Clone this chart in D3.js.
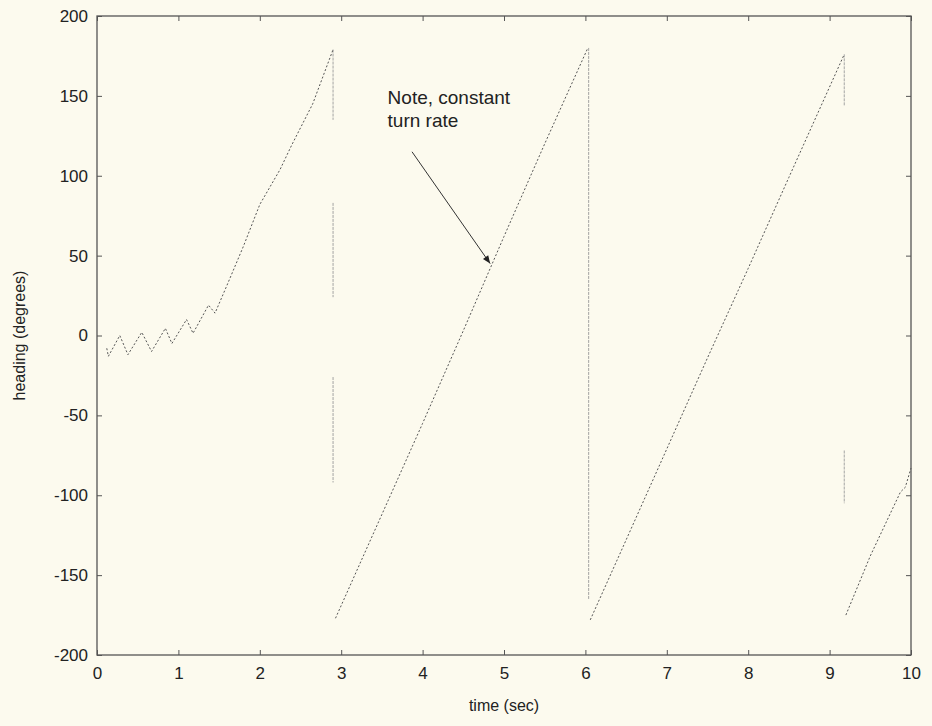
<!DOCTYPE html>
<html><head><meta charset="utf-8">
<script src="https://cdn.jsdelivr.net/npm/d3@7/dist/d3.min.js"></script>
<style>
body{margin:0;background:#fcfaee;}
svg{display:block;font-family:"Liberation Sans",Arial,sans-serif;}
</style></head><body>
<svg id="c" width="932" height="726"></svg>
<script>
// heading segments (time sec, heading deg)
const seg1T = [0.12,0.14,0.28,0.38,0.55,0.67,0.84,0.92,1.10,1.18,1.37,1.45,1.61,1.80,2.00,2.25,2.39,2.65,2.90];
const seg1V = [-8,-13,0,-12,2,-10,4.5,-5,10,1.4,19,14,33,56,82,104,119,145,179];
const seg2T = [2.93,3.5,4.0,4.5,5.0,5.5,6.03];
const seg2V = [-177,-112,-55,3,62,120,180];
const seg3T = [6.06,6.5,7.0,7.5,8.0,8.5,9.18];
const seg3V = [-178,-128,-71,-14,42,99,176];
const seg4T = [9.2,9.5,9.87,9.93,10.0];
const seg4V = [-175,-138,-98,-95,-83];
// faint wrap-around lines (time, from, to)
const wrapT = [2.9,2.9,2.9,6.04,9.18,9.18];
const wrapFrom = [179,83,-26,180,176,-72];
const wrapTo = [135,24,-92,-165,144,-105];
const xTicks = [0,1,2,3,4,5,6,7,8,9,10];
const yTicks = [-200,-150,-100,-50,0,50,100,150,200];
const noteLines = ["Note, constant","turn rate"];

const svg = d3.select("#c");
const m = {l:97,r:21,t:16,b:71};
const W = 932, H = 726;
const x = d3.scaleLinear().domain([0,10]).range([m.l, W-m.r]);
const y = d3.scaleLinear().domain([-200,200]).range([H-m.b, m.t]);

// box
svg.append("rect").attr("x",x(0)).attr("y",y(200)).attr("width",x(10)-x(0)).attr("height",y(-200)-y(200))
  .attr("fill","none").attr("stroke","#555").attr("stroke-width",1.3);

const tl = 5;
const fmt = d => String(d);
const gx = svg.append("g").attr("transform",`translate(0,${y(-200)})`)
  .call(d3.axisBottom(x).tickValues(xTicks).tickSize(-tl).tickPadding(12).tickFormat(fmt));
const gxt = svg.append("g").attr("transform",`translate(0,${y(200)})`)
  .call(d3.axisTop(x).tickValues(xTicks).tickSize(-tl).tickFormat(""));
const gy = svg.append("g").attr("transform",`translate(${x(0)},0)`)
  .call(d3.axisLeft(y).tickValues(yTicks).tickSize(-tl).tickPadding(9).tickFormat(fmt));
const gyr = svg.append("g").attr("transform",`translate(${x(10)},0)`)
  .call(d3.axisRight(y).tickValues(yTicks).tickSize(-tl).tickFormat(""));
[gx,gxt,gy,gyr].forEach(g=>{
  g.select(".domain").remove();
  g.selectAll("line").attr("stroke","#555");
  g.selectAll("text").attr("fill","#222").style("font-size","17px").style("font-family","'Liberation Sans',Arial,sans-serif");
});

svg.append("text").attr("x",(x(0)+x(10))/2).attr("y",711).attr("text-anchor","middle")
  .attr("fill","#222").style("font-size","16px").text("time (sec)");
svg.append("text").attr("transform",`translate(25,${y(0)}) rotate(-90)`).attr("text-anchor","middle")
  .attr("fill","#222").style("font-size","16px").text("heading (degrees)");

// wraps
svg.append("g").selectAll("line").data(wrapT).join("line")
  .attr("x1",d=>x(d)).attr("x2",d=>x(d))
  .attr("y1",(d,i)=>y(wrapFrom[i])).attr("y2",(d,i)=>y(wrapTo[i]))
  .attr("stroke","#9a9a9a").attr("stroke-width",0.9).attr("stroke-dasharray","3,1");

const line = d3.line().x(d=>x(d[0])).y(d=>y(d[1]));
[[seg1T,seg1V],[seg2T,seg2V],[seg3T,seg3V],[seg4T,seg4V]].forEach(([T,V])=>{
  svg.append("path").datum(T.map((t,i)=>[t,V[i]])).attr("d",line)
    .attr("fill","none").attr("stroke","#555").attr("stroke-width",1)
    .attr("stroke-dasharray","2,2");
});

// annotation
svg.append("g").selectAll("text").data(noteLines).join("text")
  .attr("x",x(3.57)).attr("y",(d,i)=>y(145)+i*23)
  .attr("fill","#222").style("font-size","19px").text(d=>d);
svg.append("defs").append("marker").attr("id","ah").attr("viewBox","0 0 10 10")
  .attr("refX",10).attr("refY",5).attr("markerWidth",12).attr("markerHeight",8)
  .attr("orient","auto").attr("markerUnits","userSpaceOnUse")
  .append("path").attr("d","M0,1 L10,5 L0,9 Z").attr("fill","#222");
svg.append("line").attr("x1",x(3.87)).attr("y1",y(115)).attr("x2",x(4.83)).attr("y2",y(45))
  .attr("stroke","#333").attr("stroke-width",1).attr("marker-end","url(#ah)");
</script></body></html>
